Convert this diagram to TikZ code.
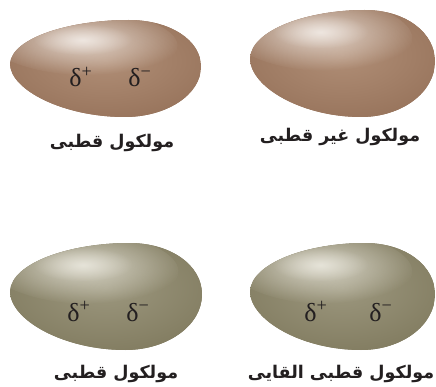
\documentclass[tikz,border=0pt]{standalone}
\usepackage{fontspec}
\usetikzlibrary{fadings}
\TeXXeTstate=1
\newfontfamily\farsi[Script=Arabic]{DejaVu Sans}
\newfontfamily\greekfont{Liberation Serif}
\definecolor{Mbrown}{RGB}{176,142,118}
\definecolor{Rbrown}{RGB}{148,112,88}
\definecolor{Hbrown}{RGB}{252,249,246}
\definecolor{Molive}{RGB}{156,151,126}
\definecolor{Rolive}{RGB}{126,120,92}
\definecolor{Holive}{RGB}{246,244,236}
\definecolor{ink}{RGB}{35,31,32}
\tikzfading[name=glow, inner color=transparent!15, outer color=transparent!100]
\tikzset{
  fa/.style={font=\farsi\bfseries\fontsize{17.5}{20}\selectfont, text=ink, anchor=base, inner sep=0pt},
  dl/.style={font=\greekfont\fontsize{26}{28}\selectfont, text=ink, anchor=base, inner sep=0pt}
}
\begin{document}
\begin{tikzpicture}[x=1pt,y=1pt]
\useasboundingbox (0,0) rectangle (436,386);
% eggs: left/bottom corner, width, height, colour
\foreach \x/\y/\w/\h/\c in {10/269/191/97/brown,250/269/185/107/brown,10/36/192/107/olive,250/36/185/107/olive}{
  \begin{scope}[shift={(\x,\y)},xscale=\w,yscale=\h]
    \clip (0,0.55) .. controls (0.01,0.82) and (0.32,1) .. (0.62,1)
      .. controls (0.84,1) and (1,0.79) .. (1,0.52)
      .. controls (1,0.23) and (0.82,0) .. (0.6,0)
      .. controls (0.28,0) and (0,0.28) .. (0,0.55) -- cycle;
    \fill[R\c] (0,0) rectangle (1,1);
    \shade[inner color=M\c,outer color=R\c] (0.5,0.58) ellipse (0.72 and 0.72);
    \fill[H\c,path fading=glow,opacity=0.8,rotate around={-8:(0.38,0.77)}] (0.38,0.77) ellipse (0.5 and 0.34);
    \fill[H\c,path fading=glow,opacity=0.6] (0.38,0.8) ellipse (0.26 and 0.16);
  \end{scope}
}
% charges
\node[dl] (dpA) at (81,299) {δ\textsuperscript{+}};
\node[dl] (dmA) at (140,299) {δ\textsuperscript{−}};
\node[dl] (dpC) at (79,65) {δ\textsuperscript{+}};
\node[dl] (dmC) at (138,65) {δ\textsuperscript{−}};
\node[dl] (dpD) at (316,65) {δ\textsuperscript{+}};
\node[dl] (dmD) at (381,65) {δ\textsuperscript{−}};
% captions
\node[fa] (lblA) at (112,238) {\beginR مولکول قطبی\endR};
\node[fa] (lblB) at (340,244) {\beginR مولکول غیر قطبی\endR};
\node[fa] (lblC) at (116,8) {\beginR مولکول قطبی\endR};
\node[fa] (lblD) at (341,8) {\beginR مولکول قطبی القایی\endR};
\end{tikzpicture}
\end{document}
